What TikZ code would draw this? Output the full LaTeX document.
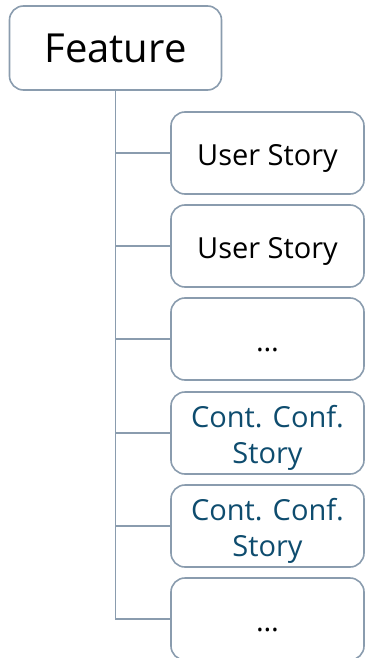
\documentclass[tikz,border=0pt]{standalone}
\usepackage{fontspec}
\setmainfont{Open Sans}
\definecolor{lnk}{RGB}{138,156,174}
\definecolor{ccs}{RGB}{14,76,110}
\tikzstyle{box}=[draw=lnk,line width=1.6pt,rounded corners=14pt,inner sep=0pt,align=center]
\tikzstyle{story}=[box,minimum width=193pt,minimum height=82pt,text height=24pt,text depth=0pt,font=\fontsize{29}{36}\selectfont]
\tikzstyle{ccstory}=[story,text=ccs,text height=60pt]
\tikzstyle{link}=[draw=lnk,line width=1.8pt]

\begin{document}
\begin{tikzpicture}[x=1pt,y=-1pt]
\useasboundingbox (0,0) rectangle (365,658);
\node[box,minimum width=212pt,minimum height=84pt,font=\fontsize{40}{44}\selectfont] (feat) at (115.5,48) {Feature};
\node[story] (us1) at (267.5,153) {User Story};
\node[story] (us2) at (267.5,246) {User Story};
\node[story] (more1) at (267.5,339) {\dots};
\node[ccstory] (cc1) at (267.5,433) {Cont. Conf.\\Story};
\node[ccstory] (cc2) at (267.5,526) {Cont. Conf.\\Story};
\node[story] (more2) at (267.5,619) {\dots};
\draw[link] (feat.south) -- (feat.south |- more2.west) -- (more2.west);
\draw[link] (feat.south |- us1.west) -- (us1.west);
\draw[link] (feat.south |- us2.west) -- (us2.west);
\draw[link] (feat.south |- more1.west) -- (more1.west);
\draw[link] (feat.south |- cc1.west) -- (cc1.west);
\draw[link] (feat.south |- cc2.west) -- (cc2.west);
\end{tikzpicture}
\end{document}
